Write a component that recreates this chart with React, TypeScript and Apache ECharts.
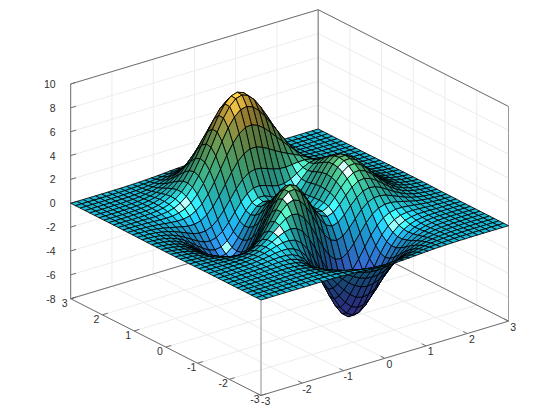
import React, { useEffect, useRef } from "react";
import * as echarts from "echarts";

// Surface heights estimated for the picture's mesh; one row per y, from y = -3 to y = 3, x from -3 to 3.
const z00 = [0,0,0,0,0,0,0,0,0,0,0,0,-.01,-.02,-.05,-.08,-.11,-.15,-.19,-.22,-.25,-.26,-.25,-.23,-.2,-.17,-.13,-.1,-.07,-.05,-.03,-.02,-.01,-.01,0,0,0,0,0,0,0];
const z01 = [0,0,0,0,0,0,0,.01,.01,.01,.01,0,-.02,-.05,-.09,-.15,-.21,-.29,-.36,-.42,-.46,-.48,-.47,-.43,-.38,-.32,-.25,-.18,-.13,-.09,-.06,-.04,-.02,-.01,-.01,0,0,0,0,0,0];
const z02 = [0,0,0,0,0,.01,.01,.01,.01,.01,.01,-.01,-.04,-.09,-.17,-.27,-.38,-.51,-.64,-.74,-.81,-.84,-.82,-.76,-.66,-.55,-.43,-.32,-.23,-.15,-.1,-.06,-.03,-.02,-.01,0,0,0,0,0,0];
const z03 = [0,0,0,0,0,.01,.01,.01,.02,.01,0,-.03,-.08,-.17,-.29,-.45,-.65,-.86,-1.06,-1.24,-1.35,-1.39,-1.36,-1.26,-1.1,-.91,-.72,-.53,-.38,-.25,-.16,-.1,-.05,-.03,-.01,-.01,0,0,0,0,0];
const z04 = [0,0,0,0,.01,.01,.01,.02,.02,.02,0,-.04,-.12,-.26,-.45,-.7,-1,-1.33,-1.64,-1.91,-2.09,-2.16,-2.11,-1.95,-1.7,-1.41,-1.11,-.82,-.58,-.39,-.24,-.15,-.08,-.04,-.02,-.01,0,0,0,0,0];
const z05 = [0,0,0,.01,.01,.01,.02,.03,.04,.03,.01,-.05,-.17,-.36,-.63,-.99,-1.43,-1.9,-2.36,-2.75,-3.02,-3.13,-3.06,-2.83,-2.47,-2.05,-1.61,-1.19,-.84,-.56,-.35,-.21,-.11,-.06,-.03,-.01,-.01,0,0,0,0];
const z06 = [0,0,0,.01,.01,.02,.03,.04,.05,.05,.02,-.05,-.2,-.45,-.81,-1.3,-1.89,-2.54,-3.17,-3.71,-4.09,-4.24,-4.16,-3.85,-3.37,-2.79,-2.18,-1.61,-1.13,-.75,-.46,-.27,-.15,-.07,-.03,-.01,0,0,0,0,0];
const z07 = [0,0,0,.01,.01,.02,.04,.06,.07,.08,.06,-.02,-.18,-.47,-.91,-1.5,-2.24,-3.06,-3.87,-4.58,-5.08,-5.3,-5.21,-4.84,-4.24,-3.51,-2.74,-2.02,-1.4,-.92,-.56,-.32,-.17,-.08,-.03,-.01,0,0,0,0,0];
const z08 = [0,0,0,.01,.02,.03,.05,.07,.1,.12,.12,.07,-.09,-.39,-.87,-1.54,-2.38,-3.35,-4.33,-5.2,-5.83,-6.14,-6.08,-5.67,-4.97,-4.11,-3.2,-2.34,-1.6,-1.03,-.61,-.34,-.17,-.07,-.02,0,0,0,0,0,0];
const z09 = [0,0,0,.01,.01,.03,.05,.09,.14,.18,.22,.2,.1,-.16,-.6,-1.27,-2.16,-3.2,-4.3,-5.31,-6.07,-6.49,-6.49,-6.08,-5.34,-4.41,-3.4,-2.46,-1.65,-1.03,-.58,-.3,-.12,-.04,0,.01,.01,.01,.01,0,0];
const z10 = [0,0,0,0,.01,.03,.05,.09,.16,.24,.33,.39,.38,.23,-.1,-.67,-1.51,-2.55,-3.7,-4.79,-5.68,-6.21,-6.31,-5.96,-5.26,-4.32,-3.29,-2.32,-1.5,-.88,-.44,-.17,-.03,.04,.05,.05,.03,.02,.01,.01,0];
const z11 = [0,0,0,0,0,.01,.03,.08,.16,.27,.42,.58,.71,.73,.6,.21,-.46,-1.4,-2.5,-3.63,-4.6,-5.26,-5.49,-5.27,-4.65,-3.78,-2.82,-1.89,-1.12,-.55,-.17,.04,.13,.15,.13,.09,.06,.04,.02,.01,.01];
const z12 = [0,-.01,-.01,-.02,-.03,-.03,-.02,.02,.1,.24,.45,.71,1,1.23,1.35,1.23,.81,.07,-.92,-2.02,-3.05,-3.82,-4.19,-4.12,-3.64,-2.9,-2.04,-1.21,-.54,-.06,.22,.34,.35,.3,.23,.16,.1,.06,.03,.02,.01];
const z13 = [-.01,-.02,-.02,-.04,-.06,-.08,-.1,-.08,-.02,.11,.37,.71,1.15,1.6,2,2.19,2.07,1.59,.77,-.25,-1.29,-2.15,-2.66,-2.74,-2.41,-1.8,-1.07,-.36,.2,.55,.71,.71,.62,.49,.35,.23,.14,.09,.05,.02,.01];
const z14 = [-.01,-.02,-.04,-.07,-.11,-.16,-.21,-.24,-.22,-.12,.13,.52,1.07,1.72,2.37,2.86,3.05,2.84,2.22,1.31,.29,-.63,-1.24,-1.43,-1.22,-.71,-.08,.53,.98,1.21,1.24,1.13,.92,.7,.49,.32,.2,.11,.06,.03,.01];
const z15 = [-.02,-.03,-.06,-.1,-.17,-.25,-.36,-.46,-.51,-.48,-.28,.11,.72,1.49,2.35,3.09,3.55,3.59,3.17,2.38,1.4,.47,-.18,-.43,-.26,.2,.8,1.35,1.72,1.86,1.78,1.55,1.24,.92,.64,.41,.25,.15,.08,.04,.02];
const z16 = [-.02,-.05,-.08,-.14,-.23,-.36,-.53,-.71,-.86,-.93,-.81,-.48,.12,.95,1.93,2.86,3.53,3.77,3.52,2.85,1.93,1.03,.4,.17,.36,.85,1.47,2.02,2.36,2.43,2.27,1.95,1.54,1.14,.78,.5,.31,.18,.1,.05,.02];
const z17 = [-.03,-.06,-.1,-.18,-.3,-.47,-.71,-.97,-1.22,-1.41,-1.41,-1.18,-.64,.2,1.23,2.27,3.08,3.47,3.36,2.8,1.97,1.13,.56,.4,.67,1.25,1.93,2.52,2.87,2.91,2.69,2.29,1.8,1.32,.91,.58,.36,.2,.11,.06,.03];
const z18 = [-.03,-.07,-.12,-.21,-.36,-.57,-.86,-1.2,-1.56,-1.86,-1.99,-1.87,-1.41,-.63,.41,1.5,2.4,2.91,2.91,2.45,1.71,.96,.47,.41,.78,1.46,2.22,2.87,3.24,3.27,3.01,2.55,2,1.47,1.01,.65,.4,.23,.12,.07,.03];
const z19 = [-.03,-.07,-.13,-.24,-.4,-.65,-.98,-1.39,-1.82,-2.22,-2.46,-2.45,-2.09,-1.37,-.37,.73,1.68,2.25,2.34,1.98,1.34,.69,.3,.33,.79,1.55,2.38,3.08,3.47,3.49,3.21,2.72,2.13,1.56,1.08,.69,.42,.24,.13,.07,.03];
const z20 = [-.03,-.08,-.14,-.25,-.43,-.69,-1.05,-1.49,-1.98,-2.45,-2.77,-2.85,-2.58,-1.94,-1,.07,1.02,1.64,1.8,1.53,.98,.43,.13,.24,.77,1.57,2.44,3.15,3.54,3.56,3.27,2.77,2.17,1.59,1.1,.7,.43,.24,.13,.07,.03];
const z21 = [-.03,-.08,-.14,-.25,-.43,-.69,-1.06,-1.51,-2.02,-2.53,-2.9,-3.04,-2.85,-2.29,-1.43,-.43,.5,1.12,1.33,1.13,.68,.22,0,.17,.72,1.53,2.38,3.08,3.46,3.48,3.19,2.7,2.11,1.55,1.07,.68,.42,.24,.13,.07,.03];
const z22 = [-.03,-.07,-.13,-.24,-.41,-.66,-1.01,-1.45,-1.95,-2.45,-2.83,-3.01,-2.88,-2.4,-1.63,-.72,.14,.74,.96,.83,.47,.1,-.06,.13,.67,1.44,2.23,2.88,3.24,3.25,2.98,2.52,1.97,1.45,1,.64,.39,.22,.12,.06,.03];
const z23 = [-.03,-.06,-.12,-.21,-.37,-.6,-.92,-1.32,-1.78,-2.24,-2.6,-2.78,-2.69,-2.28,-1.61,-.8,-.02,.54,.78,.7,.42,.12,0,.19,.67,1.35,2.05,2.62,2.92,2.92,2.67,2.26,1.76,1.29,.89,.57,.35,.2,.11,.06,.03];
const z24 = [-.03,-.06,-.1,-.18,-.32,-.51,-.79,-1.13,-1.53,-1.92,-2.23,-2.38,-2.29,-1.93,-1.32,-.59,.13,.66,.92,.9,.69,.45,.34,.48,.85,1.39,1.94,2.37,2.59,2.56,2.33,1.95,1.52,1.11,.76,.49,.3,.17,.09,.05,.02];
const z25 = [-.02,-.05,-.08,-.15,-.26,-.42,-.64,-.92,-1.23,-1.53,-1.76,-1.84,-1.71,-1.34,-.75,-.04,.65,1.2,1.51,1.56,1.42,1.22,1.09,1.12,1.33,1.65,1.99,2.24,2.33,2.24,1.99,1.66,1.28,.93,.63,.4,.24,.14,.07,.04,.02];
const z26 = [-.02,-.04,-.06,-.11,-.2,-.32,-.48,-.68,-.9,-1.11,-1.23,-1.21,-1,-.56,.07,.81,1.56,2.17,2.57,2.72,2.66,2.47,2.28,2.16,2.13,2.19,2.25,2.27,2.2,2,1.72,1.39,1.06,.76,.51,.32,.2,.11,.06,.03,.01];
const z27 = [-.01,-.03,-.05,-.08,-.14,-.22,-.34,-.46,-.59,-.68,-.69,-.55,-.22,.32,1.04,1.88,2.73,3.46,3.98,4.24,4.24,4.06,3.78,3.47,3.18,2.93,2.69,2.45,2.18,1.86,1.52,1.19,.88,.61,.41,.26,.15,.09,.05,.02,.01];
const z28 = [-.01,-.02,-.03,-.06,-.09,-.14,-.21,-.27,-.31,-.3,-.19,.07,.51,1.17,2.01,2.96,3.94,4.8,5.45,5.82,5.89,5.7,5.32,4.82,4.27,3.73,3.2,2.7,2.23,1.8,1.39,1.04,.74,.5,.33,.2,.12,.07,.04,.02,.01];
const z29 = [-.01,-.01,-.02,-.03,-.05,-.08,-.1,-.11,-.09,0,.2,.56,1.11,1.86,2.79,3.85,4.92,5.9,6.65,7.11,7.23,7.03,6.56,5.91,5.16,4.38,3.62,2.91,2.29,1.75,1.28,.92,.63,.41,.26,.16,.09,.05,.03,.01,.01];
const z30 = [0,-.01,-.01,-.02,-.02,-.03,-.03,0,.07,.21,.48,.89,1.5,2.3,3.28,4.37,5.5,6.52,7.33,7.84,7.99,7.79,7.28,6.53,5.65,4.72,3.82,2.99,2.27,1.67,1.18,.82,.54,.34,.21,.12,.07,.04,.02,.01,0];
const z31 = [0,0,0,-.01,0,0,.02,.07,.16,.33,.62,1.05,1.65,2.44,3.39,4.46,5.54,6.54,7.35,7.86,8.02,7.83,7.32,6.56,5.65,4.68,3.73,2.87,2.13,1.53,1.06,.71,.45,.28,.17,.09,.05,.03,.01,.01,0];
const z32 = [0,0,0,0,.01,.02,.04,.1,.2,.37,.64,1.05,1.6,2.32,3.19,4.15,5.14,6.04,6.78,7.25,7.41,7.23,6.76,6.05,5.2,4.28,3.39,2.58,1.89,1.34,.9,.6,.37,.22,.13,.07,.04,.02,.01,.01,0];
const z33 = [0,0,0,0,.01,.02,.05,.1,.2,.35,.59,.93,1.4,2.01,2.74,3.54,4.37,5.13,5.75,6.15,6.29,6.14,5.74,5.14,4.4,3.62,2.85,2.16,1.57,1.1,.73,.48,.29,.17,.1,.05,.03,.01,.01,0,0];
const z34 = [0,0,0,0,.01,.02,.05,.09,.17,.29,.48,.76,1.13,1.61,2.18,2.82,3.46,4.07,4.55,4.87,4.98,4.87,4.55,4.07,3.48,2.86,2.25,1.69,1.22,.85,.56,.36,.22,.13,.07,.04,.02,.01,.01,0,0];
const z35 = [0,0,0,0,.01,.02,.04,.07,.13,.22,.36,.57,.84,1.19,1.61,2.07,2.54,2.98,3.34,3.57,3.65,3.57,3.33,2.98,2.55,2.09,1.64,1.23,.89,.61,.4,.26,.16,.09,.05,.03,.01,.01,0,0,0];
const z36 = [0,0,0,0,.01,.01,.03,.05,.09,.16,.25,.39,.58,.82,1.11,1.43,1.75,2.05,2.29,2.45,2.51,2.45,2.29,2.05,1.75,1.43,1.12,.84,.61,.42,.27,.17,.1,.06,.03,.02,.01,0,0,0,0];
const z37 = [0,0,0,0,0,.01,.02,.03,.06,.1,.17,.26,.38,.53,.72,.92,1.13,1.32,1.48,1.58,1.62,1.58,1.48,1.32,1.13,.93,.72,.54,.39,.27,.17,.11,.07,.04,.02,.01,0,0,0,0,0];
const z38 = [0,0,0,0,0,.01,.01,.02,.04,.06,.1,.16,.23,.32,.43,.56,.68,.8,.9,.96,.98,.96,.9,.8,.68,.56,.44,.33,.23,.16,.1,.07,.04,.02,.01,.01,0,0,0,0,0];
const z39 = [0,0,0,0,0,0,.01,.01,.02,.04,.06,.09,.13,.19,.25,.32,.39,.46,.51,.55,.56,.55,.51,.46,.39,.32,.25,.19,.13,.09,.06,.04,.02,.01,.01,0,0,0,0,0,0];
const z40 = [0,0,0,0,0,0,0,.01,.01,.02,.03,.05,.07,.1,.13,.17,.21,.25,.27,.29,.3,.29,.27,.25,.21,.17,.13,.1,.07,.05,.03,.02,.01,.01,0,0,0,0,0,0,0];
const zRows = [z00,z01,z02,z03,z04,z05,z06,z07,z08,z09,z10,z11,z12,z13,z14,z15,z16,z17,z18,z19,z20,z21,z22,z23,z24,z25,z26,z27,z28,z29,z30,z31,z32,z33,z34,z35,z36,z37,z38,z39,z40];

const xTicks = [-3, -2, -1, 0, 1, 2, 3];
const yTicks = [-3, -2, -1, 0, 1, 2, 3];
const zTicks = [-8, -6, -4, -2, 0, 2, 4, 6, 8, 10];

const step = 0.15;
const origin = -3;

// Orthographic view of the box, in the hidden axes' units.
const project = (x: number, y: number, z: number): [number, number] => [
  261 + (x + 3) * 41.25 - (y + 3) * 31.72,
  300 - (x + 3) * 12.38 - (y + 3) * 16.12 - z * 11.93,
];

const colorStops: [number, number[]][] = [
  [-6.5, [95, 85, 235]],
  [-4.5, [70, 90, 225]],
  [-2.5, [45, 125, 215]],
  [-1, [30, 155, 210]],
  [0, [28, 185, 215]],
  [1.5, [45, 180, 165]],
  [3, [75, 180, 125]],
  [5, [125, 165, 85]],
  [6.5, [185, 155, 60]],
  [8, [230, 185, 60]],
];

const lightDir = norm([-0.28, -0.32, 0.9]);
const halfDir = norm([-0.42, -0.38, 0.82]);
const viewDir = [-0.559, -0.732, 0.389];
const zScale = 0.245;

function norm(v: number[]) {
  const l = Math.hypot(v[0], v[1], v[2]);
  return [v[0] / l, v[1] / l, v[2] / l];
}
const dot = (a: number[], b: number[]) => a[0] * b[0] + a[1] * b[1] + a[2] * b[2];

function baseColor(z: number) {
  if (z <= colorStops[0][0]) return colorStops[0][1];
  for (let k = 1; k < colorStops.length; k++) {
    if (z <= colorStops[k][0]) {
      const [z0, c0] = colorStops[k - 1];
      const [z1, c1] = colorStops[k];
      const t = (z - z0) / (z1 - z0);
      return c0.map((c, m) => c + (c1[m] - c) * t);
    }
  }
  return colorStops[colorStops.length - 1][1];
}

function cellFill(z00_: number, z10_: number, z01_: number, z11_: number) {
  const dx = (z10_ + z11_ - z00_ - z01_) / (2 * step);
  const dy = (z01_ + z11_ - z00_ - z10_) / (2 * step);
  let n = norm([-zScale * dx, -zScale * dy, 1]);
  const under = dot(n, viewDir) < 0;
  if (under) n = [-n[0], -n[1], -n[2]];
  const d = Math.max(0, dot(n, lightDir));
  const h = Math.max(0, dot(n, halfDir));
  const glow = Math.pow(h, 12);
  const spot = Math.pow(h, 90);
  const c = baseColor((z00_ + z10_ + z01_ + z11_) / 4);
  const lit = (under ? 0.55 : 0.3) + 0.72 * d + 0.5 * glow;
  const rgb = c.map((v) => Math.min(255, Math.round(v * lit + 190 * spot)));
  return `rgb(${rgb[0]},${rgb[1]},${rgb[2]})`;
}

// Far cells first, so nearer cells cover them.
const cells: number[][] = [];
for (let j = zRows.length - 2; j >= 0; j--) {
  for (let i = zRows[j].length - 2; i >= 0; i--) {
    cells.push([i, j]);
  }
}

type Seg = { a: number[]; b: number[]; stroke: string; width: number };
const GRID = "#ececec";
const FRAME = "#6e6e6e";
const segs: Seg[] = [];
const add = (a: number[], b: number[], stroke: string, width: number) => segs.push({ a, b, stroke, width });
for (const z of zTicks) {
  add([-3, 3, z], [3, 3, z], GRID, 1);
  add([3, 3, z], [3, -3, z], GRID, 1);
}
for (const x of xTicks) {
  add([x, -3, -8], [x, 3, -8], GRID, 1);
  add([x, 3, -8], [x, 3, 10], GRID, 1);
}
for (const y of yTicks) {
  add([-3, y, -8], [3, y, -8], GRID, 1);
  add([3, y, -8], [3, y, 10], GRID, 1);
}
add([-3, 3, -8], [3, 3, -8], FRAME, 1);
add([3, 3, -8], [3, -3, -8], FRAME, 1);
add([-3, 3, 10], [3, 3, 10], FRAME, 1);
add([3, 3, 10], [3, -3, 10], FRAME, 1);
add([3, 3, -8], [3, 3, 10], FRAME, 1);
add([3, -3, -8], [3, -3, 10], "#9a9a9a", 1);
add([-3, 3, -8], [-3, 3, 10], FRAME, 1);
add([-3, -3, -8], [-3, -3, 0], "#b4b4b4", 1.5);
add([-3, -3, -8], [3, -3, -8], FRAME, 1);
add([-3, -3, -8], [-3, 3, -8], FRAME, 1);
for (const z of zTicks) add([-3, 3, z], [-2.87, 3, z], FRAME, 1);
for (const x of xTicks) add([x, -3, -8], [x, -2.87, -8], FRAME, 1);
for (const y of yTicks) add([-3, y, -8], [-2.87, y, -8], FRAME, 1);

type Lab = { text: string; p: number[]; dx: number; dy: number; align: string };
const labels: Lab[] = [
  ...zTicks.map((z) => ({ text: String(z), p: [-3, 3, z], dx: -15, dy: 0, align: "right" })),
  ...xTicks.map((x) => ({ text: String(x), p: [x, -3, -8], dx: 4.7, dy: 5.5, align: "center" })),
  ...yTicks.map((y) => ({ text: String(y), p: [-3, y, -8], dx: -6, dy: 4, align: "center" })),
];

export default function App() {
  const ref = useRef<HTMLDivElement>(null);
  useEffect(() => {
    document.body.style.margin = "0";
    const chart = echarts.init(ref.current!, undefined, { renderer: "svg" });
    const at = (api: any, x: number, y: number, z: number) => api.coord(project(x, y, z));
    chart.setOption({
      animation: false,
      backgroundColor: "#fff",
      grid: { left: 0, right: 0, top: 0, bottom: 0 },
      xAxis: { type: "value", min: 0, max: 560, show: false },
      yAxis: { type: "value", min: 0, max: 420, inverse: true, show: false },
      series: [
        {
          type: "custom",
          coordinateSystem: "cartesian2d",
          silent: true,
          clip: false,
          progressive: 0,
          data: segs.map((_, k) => [k]),
          renderItem: (params: any, api: any) => {
            const s = segs[params.dataIndex];
            const p = at(api, s.a[0], s.a[1], s.a[2]);
            const q = at(api, s.b[0], s.b[1], s.b[2]);
            return {
              type: "line",
              shape: { x1: p[0], y1: p[1], x2: q[0], y2: q[1] },
              style: { stroke: s.stroke, lineWidth: s.width, fill: "none" },
            };
          },
        },
        {
          type: "custom",
          coordinateSystem: "cartesian2d",
          silent: true,
          clip: false,
          progressive: 0,
          data: labels.map((_, k) => [k]),
          renderItem: (params: any, api: any) => {
            const l = labels[params.dataIndex];
            const p = at(api, l.p[0], l.p[1], l.p[2]);
            return {
              type: "text",
              x: p[0] + l.dx,
              y: p[1] + l.dy,
              style: {
                text: l.text,
                font: '10.5px "Liberation Sans", Arial, sans-serif',
                fill: "#303030",
                align: l.align,
                verticalAlign: "middle",
              },
            };
          },
        },
        {
          type: "custom",
          coordinateSystem: "cartesian2d",
          silent: true,
          clip: false,
          progressive: 0,
          data: cells,
          renderItem: (params: any, api: any) => {
            const [i, j] = cells[params.dataIndex];
            const x0 = origin + i * step;
            const x1 = x0 + step;
            const y0 = origin + j * step;
            const y1 = y0 + step;
            const a = zRows[j][i] || 0;
            const b = zRows[j][i + 1] || 0;
            const c = zRows[j + 1][i] || 0;
            const d = zRows[j + 1][i + 1] || 0;
            return {
              type: "polygon",
              shape: { points: [at(api, x0, y0, a), at(api, x1, y0, b), at(api, x1, y1, d), at(api, x0, y1, c)] },
              style: { fill: cellFill(a, b, c, d), stroke: "#000", lineWidth: 0.85 },
            };
          },
        },
      ],
    });
    return () => chart.dispose();
  }, []);
  return <div ref={ref} style={{ width: 560, height: 420 }} />;
}
